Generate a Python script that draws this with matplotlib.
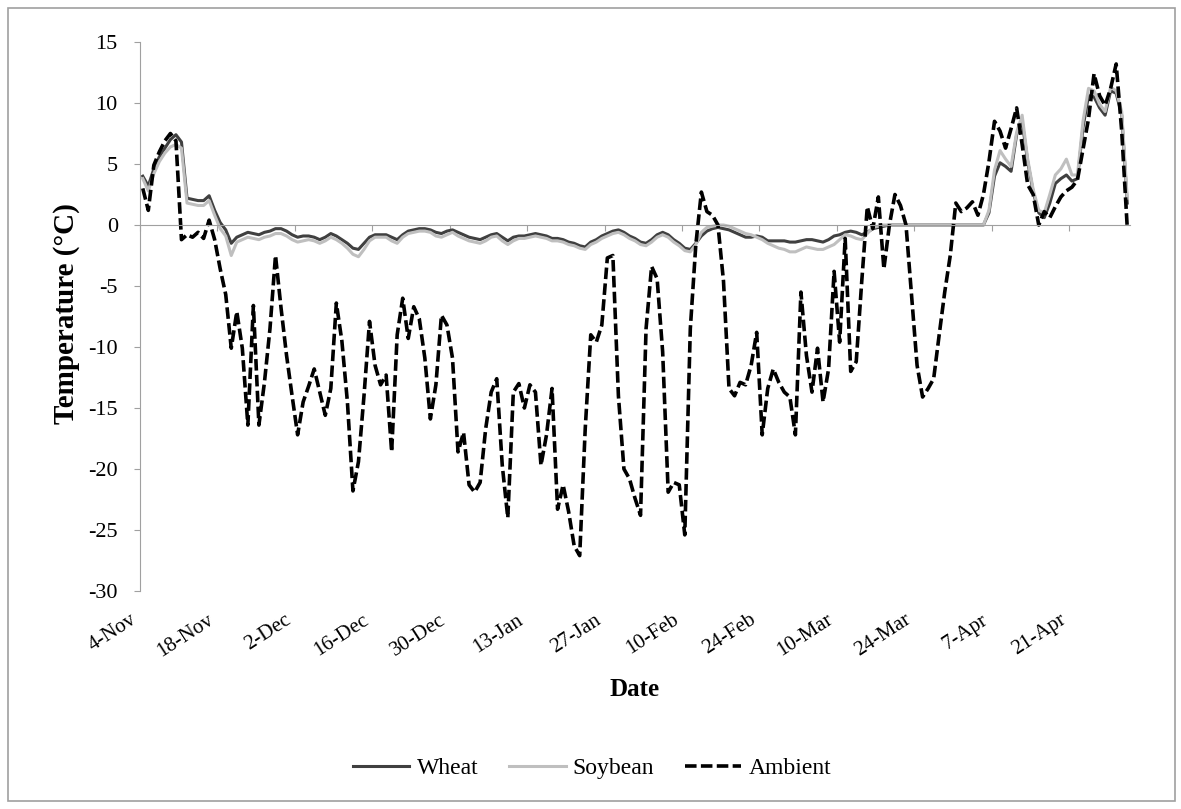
#!/usr/bin/env python3
"""
Daily soil temperature under wheat and soybean residue vs ambient air, 4-Nov to 1-May.
Output: out.png
"""
import numpy as np
import pandas as pd
import matplotlib
matplotlib.use("Agg")
import matplotlib.pyplot as plt
from matplotlib.patches import Rectangle

plt.rcParams["font.family"] = ["Liberation Serif", "DejaVu Serif"]

START = "2012-11-04"
TICK_EVERY = 14  # days between date labels
Y_TICKS = [15, 10, 5, 0, -5, -10, -15, -20, -25, -30]

# daily means (°C), one value per day from START
ambient = [
    3.0, 1.2, 4.9, 6.0, 6.9, 7.5, 6.9, -1.2, -0.8, -1.0,
    -0.6, -1.1, 0.4, -1.2, -3.6, -5.7, -10.1, -7.1, -10.1, -16.4,
    -6.6, -16.4, -12.9, -8.5, -2.5, -6.8, -10.7, -14.0, -17.2, -14.5,
    -13.2, -11.8, -13.7, -15.6, -13.4, -6.4, -9.5, -14.5, -21.8, -19.4,
    -14.0, -7.9, -11.5, -13.1, -12.3, -18.6, -9.0, -6.0, -9.3, -6.7,
    -7.7, -10.9, -15.9, -13.1, -7.4, -8.2, -10.9, -18.6, -17.0, -21.3,
    -21.9, -21.1, -16.7, -13.7, -12.6, -19.7, -24.0, -13.7, -13.0, -15.0,
    -13.1, -13.7, -19.7, -17.2, -13.4, -23.3, -21.3, -23.5, -26.3, -27.1,
    -16.7, -9.0, -9.6, -8.2, -2.7, -2.5, -14.0, -20.0, -20.8, -22.4,
    -23.8, -8.5, -3.4, -4.4, -10.4, -21.9, -21.1, -21.3, -25.4, -8.5,
    -1.6, 2.7, 1.1, 0.8, 0.0, -4.6, -13.4, -14.0, -12.9, -13.1,
    -11.5, -8.8, -17.2, -13.4, -11.8, -12.9, -13.7, -14.1, -17.2, -5.5,
    -10.7, -13.7, -10.1, -14.5, -11.8, -3.8, -9.6, -1.1, -12.0, -11.2,
    -4.6, 1.5, -0.3, 2.3, -3.6, 0.0, 2.5, 1.6, 0.0, -5.8,
    -11.5, -14.1, -13.4, -12.6, -9.0, -5.5, -2.5, 1.8, 1.1, 1.4,
    1.9, 0.8, 2.5, 5.2, 8.5, 7.7, 6.3, 7.9, 9.6, 6.6,
    3.3, 2.5, 0.0, 1.1, 0.6, 1.5, 2.3, 2.8, 3.1, 3.7,
    6.2, 8.7, 12.4, 10.6, 9.8, 11.2, 13.2, 7.7, -0.2,
]

wheat = [
    4.0, 3.2, 4.6, 5.6, 6.3, 7.0, 7.4, 6.8, 2.2, 2.1,
    2.0, 2.0, 2.4, 1.2, 0.2, -0.4, -1.5, -1.0, -0.8, -0.6,
    -0.7, -0.8, -0.6, -0.5, -0.3, -0.3, -0.5, -0.8, -1.0, -0.9,
    -0.9, -1.0, -1.2, -1.0, -0.7, -0.9, -1.2, -1.5, -1.9, -2.0,
    -1.5, -1.0, -0.8, -0.8, -0.8, -1.0, -1.2, -0.8, -0.5, -0.4,
    -0.3, -0.3, -0.4, -0.6, -0.7, -0.5, -0.4, -0.6, -0.8, -1.0,
    -1.1, -1.2, -1.0, -0.8, -0.7, -1.0, -1.3, -1.0, -0.9, -0.9,
    -0.8, -0.7, -0.8, -0.9, -1.1, -1.1, -1.2, -1.4, -1.5, -1.7,
    -1.8, -1.4, -1.2, -0.9, -0.7, -0.5, -0.4, -0.6, -0.9, -1.1,
    -1.4, -1.5, -1.2, -0.8, -0.6, -0.8, -1.2, -1.5, -1.9, -2.0,
    -1.5, -0.9, -0.5, -0.3, -0.2, -0.3, -0.4, -0.6, -0.8, -1.0,
    -1.0, -0.9, -1.0, -1.3, -1.3, -1.3, -1.3, -1.4, -1.4, -1.3,
    -1.2, -1.2, -1.3, -1.4, -1.2, -0.9, -0.8, -0.6, -0.5, -0.6,
    -0.8, -0.6, -0.3, -0.2, -0.1, 0.0, 0.0, 0.0, 0.0, 0.0,
    0.0, 0.0, 0.0, 0.0, 0.0, 0.0, 0.0, 0.0, 0.0, 0.0,
    0.0, 0.0, 0.0, 1.0, 4.0, 5.1, 4.8, 4.4, 7.4, 8.5,
    5.2, 2.7, 1.0, 0.6, 1.8, 3.4, 3.8, 4.1, 3.6, 3.8,
    8.0, 10.6, 10.5, 9.6, 9.0, 11.0, 10.8, 9.0, 1.8,
]

soybean = [
    3.8, 2.8, 4.2, 5.2, 5.9, 6.4, 6.6, 6.3, 1.8, 1.7,
    1.6, 1.6, 2.0, 0.8, -0.3, -0.9, -2.5, -1.4, -1.2, -1.0,
    -1.1, -1.2, -1.0, -0.9, -0.7, -0.7, -0.9, -1.2, -1.4, -1.3,
    -1.2, -1.3, -1.5, -1.3, -1.0, -1.2, -1.5, -1.9, -2.4, -2.6,
    -2.0, -1.3, -1.0, -1.0, -1.0, -1.3, -1.5, -1.0, -0.7, -0.6,
    -0.5, -0.5, -0.6, -0.9, -1.0, -0.8, -0.6, -0.9, -1.1, -1.3,
    -1.4, -1.5, -1.3, -1.0, -0.9, -1.3, -1.6, -1.3, -1.1, -1.1,
    -1.0, -0.9, -1.0, -1.1, -1.3, -1.3, -1.4, -1.6, -1.7, -1.9,
    -2.0, -1.6, -1.4, -1.1, -0.9, -0.7, -0.6, -0.8, -1.1, -1.3,
    -1.6, -1.7, -1.4, -1.0, -0.8, -1.0, -1.4, -1.7, -2.1, -2.2,
    -1.6, -0.6, -0.2, -0.1, 0.0, 0.0, -0.1, -0.3, -0.5, -0.7,
    -0.8, -1.0, -1.2, -1.5, -1.7, -1.9, -2.0, -2.2, -2.2, -2.0,
    -1.8, -1.9, -2.0, -2.0, -1.8, -1.6, -1.2, -0.8, -0.9, -1.1,
    -1.2, -0.7, -0.2, -0.1, 0.0, 0.0, 0.0, 0.0, 0.0, 0.0,
    0.0, 0.0, 0.0, 0.0, 0.0, 0.0, 0.0, 0.0, 0.0, 0.0,
    0.0, 0.0, 0.0, 1.2, 4.5, 6.1, 5.4, 4.8, 7.6, 9.0,
    5.4, 2.9, 1.2, 1.0, 2.5, 4.1, 4.6, 5.4, 4.1, 4.1,
    8.5, 11.2, 11.0, 9.9, 9.3, 11.3, 11.0, 9.3, 2.2,
]

AXIS_GRAY = "#a0a0a0"


def main():
    n = len(ambient)
    dates = pd.date_range(START, periods=n, freq="D")
    day = np.arange(n)
    # Excel date axis: tick sits on the left edge of each day's slot
    tick_pos = np.arange(0, n, TICK_EVERY) - 0.5
    tick_lab = [f"{d.day}-{d:%b}" for d in dates[::TICK_EVERY]]

    W, H = 1181, 809
    fig = plt.figure(figsize=(W / 100, H / 100), dpi=100)
    ax = fig.add_axes([140 / W, 1 - 591 / H, 990 / W, 549 / H])

    ax.plot(day, wheat, color="#404040", linewidth=2.2, label="Wheat")
    ax.plot(day, soybean, color="#bfbfbf", linewidth=2.2, label="Soybean")
    ax.plot(day, ambient, color="black", linewidth=2.6,
            linestyle=(0, (3.2, 1.2)), label="Ambient")

    ax.set_xlim(-0.5, n - 0.5)
    ax.set_ylim(-30, 15)

    for s in ("top", "right"):
        ax.spines[s].set_visible(False)
    ax.spines["left"].set_color(AXIS_GRAY)
    ax.spines["bottom"].set_color(AXIS_GRAY)
    ax.spines["bottom"].set_position(("data", 0))

    ax.set_yticks(Y_TICKS, labels=[str(v) for v in Y_TICKS])
    ax.tick_params(axis="y", direction="out", length=4, color=AXIS_GRAY,
                   labelsize=16, pad=12)
    ax.set_xticks(tick_pos)
    ax.tick_params(axis="x", direction="out", length=4, color=AXIS_GRAY,
                   labelbottom=False)

    # date labels sit at the bottom of the plot, not on the zero line
    sec = ax.secondary_xaxis("bottom")
    sec.set_xticks(tick_pos, labels=tick_lab)
    sec.spines["bottom"].set_visible(False)
    sec.tick_params(axis="x", length=0, pad=14, labelsize=15)
    for lab in sec.get_xticklabels():
        lab.set_rotation(33)
        lab.set_ha("right")

    x_mid = (140 + 1130) / 2 / W
    fig.text(x_mid, 1 - 690 / H, "Date", ha="center", va="center",
             fontsize=18, fontweight="bold")
    fig.text(66 / W, 1 - 314 / H, "Temperature (°C)", ha="center", va="center",
             rotation=90, fontsize=21, fontweight="bold")

    handles, labels = ax.get_legend_handles_labels()
    fig.legend(handles, labels, loc="center", bbox_to_anchor=(592 / W, 1 - 768 / H),
               ncol=3, frameon=False, fontsize=17, handlelength=2.4,
               columnspacing=1.3, handletextpad=0.3)

    # outer chart border
    fig.add_artist(Rectangle((8 / W, 8 / H), 1167 / W, 793 / H,
                             transform=fig.transFigure, fill=False,
                             edgecolor=AXIS_GRAY, linewidth=1.2))

    fig.savefig("out.png", dpi=100)
    plt.close(fig)


if __name__ == "__main__":
    main()
